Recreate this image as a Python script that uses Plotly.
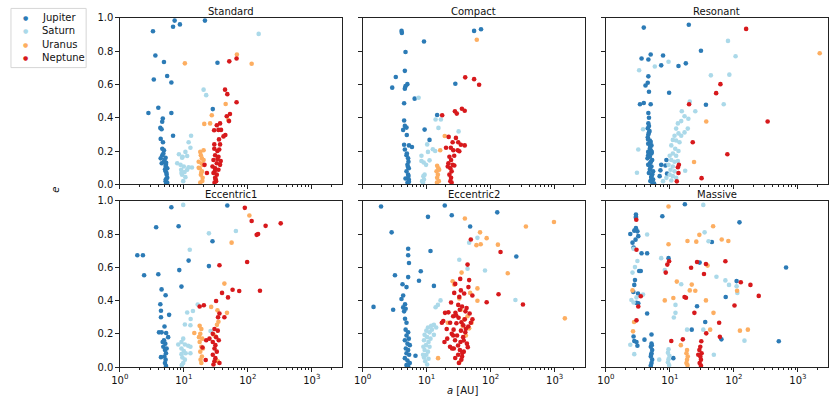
import plotly.graph_objects as go

# ---------------- data (a in AU, e) ----------------
planets = ["Jupiter", "Saturn", "Uranus", "Neptune"]
panel_titles = ["Standard", "Compact", "Resonant", "Eccentric1", "Eccentric2", "Massive"]
tick_values = [1, 10, 100, 1000]
tick_labels = ["10<sup>0</sup>", "10<sup>1</sup>", "10<sup>2</sup>", "10<sup>3</sup>"]
e_ticks = [0.0, 0.2, 0.4, 0.6, 0.8, 1.0]

standard_jupiter_a = [7.2, 6.8, 8.7, 21.4, 3.3, 3.6, 4.9, 3.4, 5.5, 6.4, 2.8, 4.0, 6.4, 4.7, 4.6, 4.3, 4.5, 6.8, 33.6, 28.4,
                      4.36, 4.73, 4.62, 4.9, 4.62, 4.36, 5.2, 4.9, 4.52, 5.27, 5.52, 5.2, 5.4, 5.52, 5.2, 5.52, 4.8, 5.0,
                      5.3, 5.25, 5.35, 5.2, 5.1, 5.3]
standard_jupiter_e = [0.984, 0.947, 0.961, 0.984, 0.92, 0.774, 0.735, 0.63, 0.651, 0.612, 0.429, 0.46, 0.429, 0.396, 0.376,
                      0.339, 0.331, 0.292, 0.731, 0.452, 0.273, 0.253, 0.214, 0.205, 0.175, 0.156, 0.16, 0.136, 0.127,
                      0.117, 0.097, 0.078, 0.058, 0.039, 0.019, 0.01, 0.185, 0.146, 0.005, 0.03, 0.07, 0.11, 0.09, 0.13]
standard_saturn_a = [148, 20.4, 22.4, 13.0, 11.9, 12.7, 10.6, 8.4, 9.4, 9.6, 11.3, 8.9, 10.0, 11.9, 13.4, 9.1, 10.3, 9.4,
                     10.6, 9.8, 9.2, 11.3, 7.9]
standard_saturn_e = [0.904, 0.569, 0.536, 0.292, 0.253, 0.22, 0.195, 0.181, 0.16, 0.165, 0.17, 0.117, 0.107, 0.103, 0.101,
                     0.088, 0.074, 0.058, 0.043, 0.019, 0.068, 0.088, 0.127]
standard_uranus_a = [10.4, 67.6, 115, 45.1, 27.4, 25.8, 20.9, 49.6, 18.1, 20.4, 19.2, 17.1, 19.9, 17.7, 19.2, 18.5, 19.7,
                     18.1, 17.1, 20.4, 18.5, 19.5, 18.8, 19.0]
standard_uranus_e = [0.727, 0.78, 0.725, 0.483, 0.415, 0.366, 0.363, 0.386, 0.195, 0.205, 0.156, 0.136, 0.117, 0.097, 0.078,
                     0.058, 0.039, 0.01, 0.10, 0.146, 0.175, 0.02, 0.07, 0.125]
standard_neptune_a = [51.4, 66.8, 66.8, 44.1, 47.9, 52.7, 46.9, 50.9, 44.6, 41.7, 36.9, 34.8, 38.2, 29.8, 32.8, 30.0, 36.9,
                      35.8, 30.0, 21.1, 23.0, 30.9, 34.8, 29.1, 32.8, 36.9, 30.9, 34.8, 29.1, 32.8, 30.9, 32.0, 30.2, 28.1,
                      33.6, 37.8, 31.5, 33.5, 30.5, 35.5]
standard_neptune_e = [0.739, 0.756, 0.493, 0.569, 0.542, 0.423, 0.409, 0.38, 0.296, 0.288, 0.366, 0.327, 0.327, 0.325, 0.355,
                      0.24, 0.24, 0.209, 0.214, 0.117, 0.068, 0.175, 0.166, 0.146, 0.127, 0.117, 0.097, 0.088, 0.068, 0.058,
                      0.039, 0.019, 0.01, 0.107, 0.152, 0.14, 0.03, 0.2, 0.08, 0.27]

compact_jupiter_a = [4.06, 4.1, 9.1, 4.68, 4.57, 3.3, 5.0, 4.68, 4.57, 2.9, 6.5, 4.45, 28.1, 14.6, 55.2, 70.8, 4.45, 4.57,
                     4.3, 4.85, 9.3, 4.9, 11.1, 4.45, 5.3, 5.9, 4.57, 4.85, 5.14, 5.02, 5.27, 4.85, 5.14, 5.27, 5.02, 4.68,
                     4.91, 5.2, 5.2, 5.3, 5.1]
compact_jupiter_e = [0.922, 0.91, 0.858, 0.795, 0.682, 0.645, 0.602, 0.59, 0.575, 0.581, 0.515, 0.487, 0.604, 0.417, 0.922,
                     0.932, 0.384, 0.351, 0.327, 0.341, 0.329, 0.296, 0.267, 0.238, 0.234, 0.224, 0.209, 0.175, 0.156,
                     0.117, 0.097, 0.078, 0.058, 0.029, 0.01, 0.035, 0.185, 0.136, 0.05, 0.015, 0.105]
compact_saturn_a = [7.5, 13.8, 16.7, 15.3, 31.6, 10.2, 12.5, 13.6, 8.3, 10.5, 9.0, 8.3, 9.8, 11.1, 8.9, 9.1, 8.8, 9.3, 8.5]
compact_saturn_e = [0.52, 0.39, 0.39, 0.339, 0.318, 0.24, 0.211, 0.2, 0.172, 0.195, 0.131, 0.14, 0.117, 0.144, 0.049,
                    0.029, 0.01, 0.058, 0.019]
compact_uranus_a = [60.8, 19.2, 16.3, 14.6, 15.3, 14.3, 15.0, 14.6, 15.5, 14.5, 15.7]
compact_uranus_e = [0.869, 0.29, 0.205, 0.111, 0.097, 0.078, 0.058, 0.039, 0.019, 0.01, 0.088]
compact_neptune_a = [40.1, 55.2, 66.1, 17.5, 27.7, 29.6, 35.6, 39.4, 22.1, 28.7, 25.5, 31.2, 34.3, 39.4, 20.1, 23.9, 30.6,
                     26.1, 32.4, 27.0, 22.7, 24.1, 21.9, 25.5, 23.5, 24.6, 22.7, 24.1, 23.5, 24.6, 27.1, 21.4]
compact_neptune_e = [0.643, 0.632, 0.598, 0.415, 0.439, 0.425, 0.454, 0.442, 0.285, 0.279, 0.253, 0.253, 0.238, 0.234,
                     0.22, 0.22, 0.205, 0.205, 0.199, 0.172, 0.166, 0.146, 0.127, 0.117, 0.097, 0.078, 0.058, 0.039,
                     0.019, 0.01, 0.113, 0.107]

resonant_jupiter_a = [3.9, 19.7, 30.5, 5.0, 3.6, 4.6, 7.8, 7.3, 13.6, 17.7, 4.6, 4.5, 4.15, 4.7, 9.7, 3.4, 3.9, 5.0, 36.5,
                      4.6, 4.7, 4.6, 4.5, 4.7, 4.5, 7.3, 8.5, 7.1, 8.8, 9.0, 6.9, 4.85, 4.57, 5.14, 4.85, 4.57, 5.14, 4.85,
                      4.46, 5.27, 4.85, 4.57, 5.14, 4.85, 5.46, 4.68, 5.14, 5.46, 5.02, 5.33, 5.66, 4.57, 5.02,
                      4.7, 4.6, 4.8, 4.55, 5.0, 4.9, 5.2, 4.75, 5.05, 4.9, 5.3, 5.1, 4.95, 5.5]
resonant_jupiter_e = [0.942, 0.959, 0.803, 0.78, 0.756, 0.75, 0.774, 0.715, 0.711, 0.727, 0.649, 0.61, 0.594, 0.556, 0.55,
                      0.481, 0.489, 0.481, 0.478, 0.429, 0.4, 0.366, 0.337, 0.312, 0.283, 0.117, 0.113, 0.084, 0.146,
                      0.064, 0.049, 0.263, 0.244, 0.234, 0.214, 0.195, 0.185, 0.166, 0.156, 0.146, 0.127, 0.117, 0.107,
                      0.088, 0.078, 0.068, 0.049, 0.029, 0.019, 0.01, 0.004, 0.175, 0.205,
                      0.35, 0.3, 0.32, 0.27, 0.255, 0.225, 0.195, 0.175, 0.135, 0.095, 0.06, 0.04, 0.02, 0.003]
resonant_saturn_a = [80.7, 106, 9.5, 5.8, 3.3, 43.6, 84.7, 69.2, 20.4, 24.9, 3.8, 3.2, 3.05, 17.3, 7.8, 15.3, 16.9, 19.4,
                     15.0, 13.3, 19.0, 12.5, 13.6, 16.9, 11.8, 15.0, 11.1, 12.5, 14.1, 10.5, 12.1, 13.6, 11.1, 9.9, 12.5,
                     10.5, 11.8, 13.3, 9.5, 11.1, 10.2, 11.8, 9.9, 11.1, 8.8, 10.5, 12.5]
resonant_saturn_e = [0.862, 0.77, 0.737, 0.708, 0.686, 0.655, 0.659, 0.481, 0.497, 0.439, 0.331, 0.209, 0.07, 0.082, 0.019,
                     0.439, 0.409, 0.394, 0.38, 0.366, 0.335, 0.335, 0.306, 0.312, 0.292, 0.292, 0.267, 0.263, 0.253,
                     0.234, 0.214, 0.2, 0.185, 0.172, 0.172, 0.146, 0.136, 0.14, 0.117, 0.107, 0.088, 0.078, 0.058,
                     0.049, 0.039, 0.023, 0.039]
resonant_uranus_a = [2188, 36.9, 23.8]
resonant_uranus_e = [0.788, 0.378, 0.134]
resonant_neptune_a = [155, 61.5, 52.7, 19.9, 336, 22.7, 78.9, 13.8, 13.3, 13.6, 31.2, 12.8]
resonant_neptune_e = [0.934, 0.602, 0.548, 0.481, 0.378, 0.253, 0.181, 0.117, 0.103, 0.068, 0.037, 0.018]

eccentric1_jupiter_a = [6.4, 47.9, 3.7, 8.3, 1.88, 2.3, 2.4, 4.0, 11.9, 24.7, 28.1, 8.5, 9.2, 4.5, 5.2, 4.3, 4.4, 4.4, 5.9,
                        5.0, 4.1, 4.5, 5.3, 5.7, 4.4, 4.9, 5.14, 4.79, 5.08, 5.27, 4.97, 5.2, 5.08, 5.27, 5.4, 4.68]
eccentric1_jupiter_e = [0.961, 0.971, 0.841, 0.847, 0.672, 0.672, 0.552, 0.558, 0.64, 0.607, 0.756, 0.583, 0.484, 0.467,
                        0.432, 0.378, 0.339, 0.3, 0.314, 0.244, 0.209, 0.209, 0.205, 0.18, 0.06, 0.161, 0.141, 0.122,
                        0.103, 0.083, 0.064, 0.045, 0.025, 0.008, 0.112, 0.151]
eccentric1_saturn_a = [9.8, 24.7, 65.2, 12.4, 16.5, 11.3, 13.9, 12.8, 10.4, 12.7, 26.2, 9.8, 9.2, 8.2, 10.4, 11.7, 12.7,
                       9.2, 10.0, 9.2, 10.7, 9.5, 10.4, 9.8, 9.3, 12.7]
eccentric1_saturn_e = [0.975, 0.804, 0.818, 0.705, 0.376, 0.328, 0.337, 0.289, 0.256, 0.252, 0.217, 0.171, 0.151, 0.136,
                       0.136, 0.128, 0.122, 0.112, 0.097, 0.078, 0.083, 0.058, 0.045, 0.025, 0.012, 0.083]
eccentric1_uranus_a = [106, 55.9, 43.1, 47.3, 33.6, 26.8, 34.8, 33.0, 14.6, 17.7, 18.8, 18.1, 19.4, 17.7, 18.8, 18.1, 19.2,
                       18.3, 18.8, 17.3, 19.9, 30.2, 34.0]
eccentric1_uranus_e = [0.911, 0.748, 0.502, 0.326, 0.341, 0.362, 0.273, 0.254, 0.205, 0.248, 0.229, 0.2, 0.171, 0.151,
                       0.122, 0.093, 0.064, 0.045, 0.025, 0.18, 0.112, 0.19, 0.035]
eccentric1_neptune_a = [89.9, 115, 190, 138, 327, 97.7, 36.1, 57.9, 39.6, 73.5, 155, 49.1, 32.0, 17.7, 20.6, 36.1, 34.3,
                        43.1, 22.4, 19.6, 22.0, 30.2, 34.0, 28.4, 32.0, 35.2, 28.4, 31.2, 30.2, 32.8, 28.4, 31.2, 30.2,
                        29.1, 36.1, 25.2, 145]
eccentric1_neptune_e = [0.957, 0.878, 0.849, 0.795, 0.864, 0.632, 0.612, 0.465, 0.446, 0.457, 0.459, 0.419, 0.397, 0.364,
                        0.372, 0.322, 0.3, 0.3, 0.161, 0.118, 0.043, 0.229, 0.219, 0.2, 0.18, 0.161, 0.151, 0.132, 0.112,
                        0.093, 0.074, 0.054, 0.035, 0.016, 0.025, 0.171, 0.80]

eccentric2_jupiter_a = [1.94, 19.2, 24.7, 127, 2.84, 10.5, 47.9, 11.5, 5.15, 5.15, 5.3, 3.2, 8.1, 5.15, 7.6, 13.0, 252,
                        1.48, 3.0, 4.2, 4.85, 4.3, 4.05, 4.6, 4.3, 4.7, 4.45, 4.6, 4.85, 4.7, 6.7, 5.15, 4.85, 5.27, 4.57,
                        5.02, 5.46, 4.73, 5.15, 4.85, 5.33, 4.57, 5.02, 5.46, 4.85, 5.15]
eccentric2_jupiter_e = [0.965, 0.971, 0.913, 0.93, 0.81, 0.903, 0.845, 0.698, 0.711, 0.672, 0.626, 0.552, 0.576, 0.541,
                        0.519, 0.488, 0.665, 0.362, 0.345, 0.498, 0.481, 0.43, 0.409, 0.378, 0.359, 0.351, 0.335, 0.291,
                        0.267, 0.225, 0.068, 0.209, 0.19, 0.171, 0.161, 0.141, 0.132, 0.112, 0.103, 0.083, 0.074, 0.054,
                        0.039, 0.025, 0.012, 0.006]
eccentric2_saturn_a = [46.2, 62.2, 32.4, 43.6, 81.7, 244, 16.5, 13.8, 15.0, 13.0, 11.8, 10.5, 9.9, 11.1, 9.3, 12.1, 10.2,
                       9.1, 10.7, 9.8, 8.9, 11.1, 9.3, 10.5, 9.9, 9.1, 10.7, 9.5, 10.2, 8.8, 11.5, 13.0, 14.1]
eccentric2_saturn_e = [0.748, 0.777, 0.645, 0.591, 0.581, 0.403, 0.401, 0.36, 0.374, 0.254, 0.248, 0.238, 0.219, 0.209,
                       0.194, 0.225, 0.18, 0.161, 0.151, 0.132, 0.122, 0.122, 0.103, 0.093, 0.074, 0.058, 0.05, 0.035,
                       0.016, 0.074, 0.171, 0.194, 0.238]
eccentric2_uranus_a = [977, 356, 39.6, 68.4, 86.7, 60.0, 70.0, 130, 185, 1445, 25.5, 35.2, 32.4, 62.2, 27.0, 47.9, 62.2,
                       46.2, 50.4, 38.6, 21.4, 15.1, 32.4, 34.3, 43.6, 36.5, 41.1]
eccentric2_uranus_e = [0.872, 0.845, 0.893, 0.81, 0.775, 0.733, 0.738, 0.736, 0.564, 0.293, 0.516, 0.568, 0.413, 0.473,
                       0.496, 0.446, 0.399, 0.233, 0.267, 0.287, 0.267, 0.054, 0.029, 0.345, 0.306, 0.248, 0.19]
eccentric2_neptune_a = [49.1, 143, 133, 320, 86.7, 43.6, 28.0, 33.5, 46.2, 45.0, 34.3, 38.6, 27.0, 32.4, 24.1, 51.9, 31.2,
                        35.8, 42.1, 33.0, 40.5, 28.2, 47.0, 21.9, 19.4, 26.0, 31.6, 39.5, 18.2, 23.3, 29.2, 37.4, 44.8,
                        20.6, 26.4, 34.4, 40.2, 24.7, 29.9, 37.2, 21.0, 27.8, 33.8, 42.6, 23.2, 26.6, 33.1, 38.1, 31.1,
                        35.9, 34.9, 32.0, 25.0, 52.0, 49.1, 19.0, 17.3, 29.0, 35.0, 41.0, 26.0, 38.0, 31.0, 44.0, 36.0,
                        28.0]
eccentric2_neptune_e = [0.767, 0.692, 0.438, 0.376, 0.39, 0.616, 0.5, 0.53, 0.523, 0.481, 0.461, 0.442, 0.446, 0.422,
                        0.388, 0.43, 0.374, 0.364, 0.355, 0.345, 0.335, 0.326, 0.322, 0.329, 0.326, 0.306, 0.297, 0.287,
                        0.277, 0.267, 0.264, 0.252, 0.244, 0.229, 0.225, 0.219, 0.209, 0.2, 0.19, 0.18, 0.171, 0.161,
                        0.151, 0.141, 0.122, 0.112, 0.103, 0.093, 0.074, 0.064, 0.045, 0.025, 0.112, 0.287, 0.267,
                        0.151, 0.267, 0.31, 0.27, 0.23, 0.19, 0.16, 0.13, 0.12, 0.085, 0.055]

massive_jupiter_a = [17.1, 7.6, 2.94, 2.94, 2.94, 122, 2.94, 2.77, 3.1, 2.4, 3.2, 2.9, 2.6, 2.7, 3.6, 4.4, 9.5, 29.1,
                     45.2, 652, 3.3, 3.5, 2.84, 2.77, 110, 3.17, 2.68, 74.3, 3.0, 3.2, 26.5, 4.4, 35.6, 21.9, 5.15, 2.7,
                     2.77, 3.0, 4.0, 3.1, 63.7, 502, 11.3, 5.15, 5.02, 5.27, 5.15, 5.02, 5.27, 5.15, 5.02, 5.2, 5.08]
massive_jupiter_e = [0.979, 0.907, 0.917, 0.903, 0.897, 0.87, 0.835, 0.82, 0.816, 0.8, 0.787, 0.766, 0.748, 0.719,
                     0.684, 0.684, 0.655, 0.628, 0.752, 0.599, 0.578, 0.578, 0.523, 0.494, 0.517, 0.442, 0.452, 0.421,
                     0.386, 0.384, 0.366, 0.322, 0.271, 0.225, 0.196, 0.184, 0.157, 0.151, 0.165, 0.128, 0.167, 0.155,
                     0.054, 0.141, 0.122, 0.103, 0.083, 0.064, 0.045, 0.025, 0.01, 0.132, 0.074]
massive_saturn_a = [33.2, 34.8, 4.4, 40.1, 2.7, 7.3, 3.1, 2.84, 2.6, 8.3, 53.3, 73.5, 83.7, 110, 15.0, 113, 3.8, 2.5, 2.7,
                    3.0, 12.2, 12.2, 11.5, 18.5, 33.2, 146, 2.4, 2.77, 6.8, 48.5, 9.5, 9.3, 9.8, 9.5, 9.3, 9.7]
massive_saturn_e = [0.975, 0.81, 0.797, 0.756, 0.711, 0.655, 0.638, 0.601, 0.568, 0.583, 0.543, 0.521, 0.494, 0.486,
                    0.498, 0.446, 0.436, 0.403, 0.388, 0.419, 0.374, 0.326, 0.298, 0.225, 0.225, 0.159, 0.134, 0.078,
                    0.045, 0.074, 0.107, 0.087, 0.068, 0.048, 0.029, 0.012]
massive_uranus_a = [9.5, 47.3, 28.8, 64.4, 81.7, 18.8, 25.8, 9.5, 38.7, 12.8, 21.9, 20.4, 24.9, 11.3, 8.3, 36.5, 112, 2.6,
                    47.9, 2.75, 2.65, 42.5, 124, 165, 14.8, 18.5, 18.1, 19.0, 18.5, 18.1, 18.8]
massive_uranus_e = [0.965, 0.847, 0.795, 0.767, 0.758, 0.758, 0.754, 0.738, 0.61, 0.514, 0.496, 0.461, 0.459, 0.415,
                    0.401, 0.401, 0.459, 0.461, 0.326, 0.271, 0.215, 0.225, 0.219, 0.225, 0.132, 0.103, 0.083, 0.064,
                    0.045, 0.025, 0.012]
massive_neptune_a = [2.98, 3.0, 9.7, 9.1, 26.5, 36.5, 73.5, 21.4, 8.6, 34.0, 128, 181, 244, 3.5, 16.9, 17.8, 3.2, 102,
                     36.9, 3.0, 24.1, 58.7, 60.2, 15.9, 10.5, 30.9, 29.8, 28.8, 31.2, 29.8, 30.5, 29.1, 30.5, 27.7]
massive_neptune_e = [0.886, 0.705, 0.636, 0.616, 0.632, 0.62, 0.636, 0.597, 0.568, 0.56, 0.51, 0.494, 0.428, 0.426,
                     0.421, 0.417, 0.364, 0.37, 0.203, 0.281, 0.326, 0.267, 0.182, 0.167, 0.157, 0.155, 0.122, 0.103,
                     0.083, 0.064, 0.045, 0.025, 0.01, 0.074]

panels = {
    "Standard": [(standard_jupiter_a, standard_jupiter_e), (standard_saturn_a, standard_saturn_e),
                 (standard_uranus_a, standard_uranus_e), (standard_neptune_a, standard_neptune_e)],
    "Compact": [(compact_jupiter_a, compact_jupiter_e), (compact_saturn_a, compact_saturn_e),
                (compact_uranus_a, compact_uranus_e), (compact_neptune_a, compact_neptune_e)],
    "Resonant": [(resonant_jupiter_a, resonant_jupiter_e), (resonant_saturn_a, resonant_saturn_e),
                 (resonant_uranus_a, resonant_uranus_e), (resonant_neptune_a, resonant_neptune_e)],
    "Eccentric1": [(eccentric1_jupiter_a, eccentric1_jupiter_e), (eccentric1_saturn_a, eccentric1_saturn_e),
                   (eccentric1_uranus_a, eccentric1_uranus_e), (eccentric1_neptune_a, eccentric1_neptune_e)],
    "Eccentric2": [(eccentric2_jupiter_a, eccentric2_jupiter_e), (eccentric2_saturn_a, eccentric2_saturn_e),
                   (eccentric2_uranus_a, eccentric2_uranus_e), (eccentric2_neptune_a, eccentric2_neptune_e)],
    "Massive": [(massive_jupiter_a, massive_jupiter_e), (massive_saturn_a, massive_saturn_e),
                (massive_uranus_a, massive_uranus_e), (massive_neptune_a, massive_neptune_e)],
}

# ---------------- styling ----------------
COLORS = ["#2c7bb6", "#abd9e9", "#fdae61", "#d7191c"]
FONT = "DejaVu Sans"
W, H = 830, 403
COL_LEFT = [112, 357.5, 603.5]
COL_W = 224.5
ROW_TOP = [12.3, 200.7]
ROW_H = 171.5
AXCOL = "#222222"
TXT = "#111111"

minor_vals = [m * 10 ** k for k in range(4) for m in range(2, 10)]


def px_x(v):
    return v / W


def px_y(v):
    return 1 - v / H


fig = go.Figure()
layout = {}
annotations = []
shapes = []

for i, title in enumerate(panel_titles):
    r, c = divmod(i, 3)
    n = "" if i == 0 else str(i + 1)
    xd = [px_x(COL_LEFT[c]), px_x(COL_LEFT[c] + COL_W)]
    yd = [px_y(ROW_TOP[r] + ROW_H), px_y(ROW_TOP[r])]
    for p, (name, (a, e)) in enumerate(zip(planets, panels[title])):
        fig.add_trace(go.Scatter(
            x=a, y=e, mode="markers", name=name, legendgroup=name,
            showlegend=False,
            marker=dict(color=COLORS[p], size=4.6, line=dict(width=0)),
            xaxis="x" + n, yaxis="y" + n,
        ))
    layout["xaxis" + n] = dict(
        type="log", range=[0, 3.47], domain=xd, anchor="y" + n,
        showline=True, mirror=True, linecolor=AXCOL, linewidth=1,
        ticks="outside", ticklen=3.5, tickwidth=0.8, tickcolor=AXCOL,
        tickmode="array", tickvals=tick_values, ticktext=tick_labels,
        showticklabels=(r == 1), showgrid=False, zeroline=False,
        minor=dict(ticks="outside", ticklen=2, tickwidth=0.6, tickcolor=AXCOL,
                   tickmode="array", tickvals=minor_vals, showgrid=False),
        tickfont=dict(family=FONT, size=10, color=TXT),
    )
    layout["yaxis" + n] = dict(
        range=[0, 1], domain=yd, anchor="x" + n,
        showline=True, mirror=True, linecolor=AXCOL, linewidth=1,
        ticks="outside", ticklen=3.5, tickwidth=0.8, tickcolor=AXCOL,
        tickmode="array", tickvals=e_ticks, tickformat=".1f",
        showticklabels=(c == 0), showgrid=False, zeroline=False,
        tickfont=dict(family=FONT, size=10, color=TXT),
    )
    annotations.append(dict(
        text=title, xref="paper", yref="paper",
        x=px_x(COL_LEFT[c] + COL_W / 2), y=px_y(ROW_TOP[r]),
        xanchor="center", yanchor="bottom", showarrow=False, yshift=-1,
        font=dict(family=FONT, size=10, color=TXT),
    ))

# axis labels
annotations.append(dict(text="<i>e</i>", xref="paper", yref="paper", x=px_x(47), y=px_y(189),
                        textangle=-90, showarrow=False, xanchor="center", yanchor="middle",
                        font=dict(family=FONT, size=10, color=TXT)))
annotations.append(dict(text="<i>a</i> [AU]", xref="paper", yref="paper", x=px_x(458),
                        y=px_y(396), showarrow=False, xanchor="center", yanchor="middle",
                        font=dict(family=FONT, size=10, color=TXT)))

# legend (framed key in the upper-left corner)
shapes.append(dict(type="rect", xref="paper", yref="paper",
                   x0=px_x(2), x1=px_x(78), y0=px_y(63.5), y1=px_y(2.5),
                   line=dict(color="#d6d6d6", width=1), fillcolor="white", layer="above"))
legend_rows = [12, 25.5, 39.3, 53.3]
for p, name in enumerate(planets):
    annotations.append(dict(text="●", xref="paper", yref="paper", x=px_x(16.7), y=px_y(legend_rows[p]),
                            xanchor="center", yanchor="middle", showarrow=False,
                            font=dict(family=FONT, size=6, color=COLORS[p])))
    annotations.append(dict(text=name, xref="paper", yref="paper", x=px_x(31.5), y=px_y(legend_rows[p]),
                            xanchor="left", yanchor="middle", showarrow=False,
                            font=dict(family=FONT, size=10, color=TXT)))

fig.update_layout(
    width=W, height=H, margin=dict(l=0, r=0, t=0, b=0),
    paper_bgcolor="white", plot_bgcolor="white",
    font=dict(family=FONT, size=10, color=TXT),
    annotations=annotations, shapes=shapes, showlegend=False,
    **layout,
)

fig.write_html(
    "out.html",
    config={"displayModeBar": False},
    post_script="document.body.style.margin='0px';document.body.style.overflow='hidden';",
)
